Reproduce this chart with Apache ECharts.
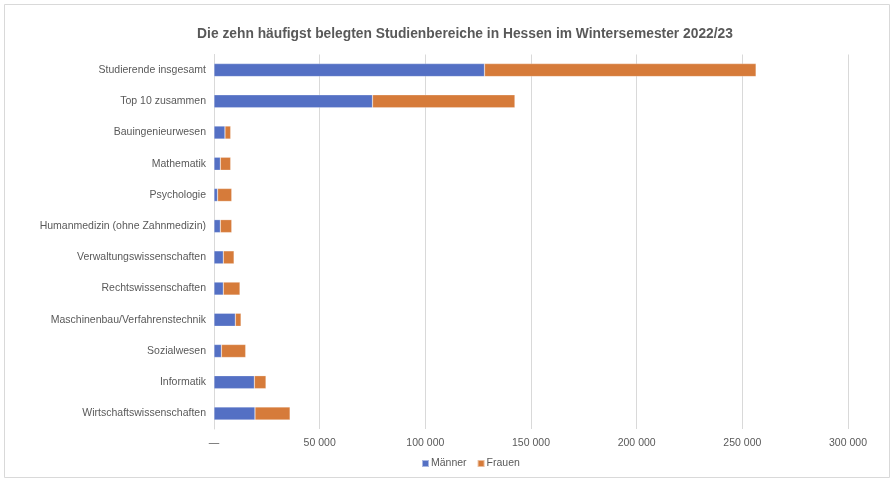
<!DOCTYPE html>
<html>
<head>
<meta charset="utf-8">
<script src="https://cdn.jsdelivr.net/npm/echarts@6/dist/echarts.min.js"></script>
<style>
html,body{margin:0;padding:0;background:#fff;}
#c{width:894px;height:481px;}
</style>
</head>
<body>
<div id="c"></div>
<script>
const categories = [
  "Studierende insgesamt",
  "Top 10 zusammen",
  "Bauingenieurwesen",
  "Mathematik",
  "Psychologie",
  "Humanmedizin (ohne Zahnmedizin)",
  "Verwaltungswissenschaften",
  "Rechtswissenschaften",
  "Maschinenbau/Verfahrenstechnik",
  "Sozialwesen",
  "Informatik",
  "Wirtschaftswissenschaften"
];
const maenner = [128000, 75000, 5200, 3000, 1700, 3000, 4400, 4400, 10100, 3500, 19100, 19400];
const frauen  = [128500, 67400, 2700, 4900, 6700, 5400, 5100, 7900, 2700, 11500, 5500, 16600];
const seriesNames = ["Männer", "Frauen"];
const titleText = "Die zehn häufigst belegten Studienbereiche in Hessen im Wintersemester 2022/23";

const fontFam = "'Liberation Sans', Arial, sans-serif";
const chart = echarts.init(document.getElementById('c'));
function fmt(v){
  if (v === 0) return '—';
  return String(v).replace(/\B(?=(\d{3})+(?!\d))/g, ' ');
}
chart.setOption({
  animation: false,
  color: ['#5470C4', '#D67B3A'],
  graphic: [{
    type: 'rect', shape: {x: 4.5, y: 4.5, width: 885, height: 473},
    style: {fill: 'none', stroke: '#d9d9d9', lineWidth: 1}, silent: true
  }],
  title: {
    text: titleText,
    left: 460, top: 22, textAlign: 'center',
    textStyle: {fontFamily: fontFam, fontSize: 13.8, fontWeight: 'bold', color: '#595959'}
  },
  legend: {
    data: seriesNames,
    bottom: 7,
    left: 416,
    itemWidth: 7, itemHeight: 7, itemGap: 10,
    icon: 'rect',
    textStyle: {fontFamily: fontFam, fontSize: 10.5, color: '#595959', padding: [0,0,0,-3]}
  },
  grid: {left: 214, right: 46, top: 54.5, bottom: 52, containLabel: false},
  xAxis: {
    type: 'value', min: 0, max: 300000, interval: 50000,
    axisLine: {show: false}, axisTick: {show: false},
    splitLine: {lineStyle: {color: '#d9d9d9', width: 1}},
    axisLabel: {fontFamily: fontFam, fontSize: 10.5, color: '#595959', margin: 9, formatter: fmt}
  },
  yAxis: {
    type: 'category', data: categories, inverse: true,
    axisLine: {show: true, lineStyle: {color: '#d9d9d9'}},
    axisTick: {show: false},
    axisLabel: {fontFamily: fontFam, fontSize: 10.5, color: '#595959', margin: 8}
  },
  series: [
    {name: seriesNames[0], type: 'bar', stack: 's', data: maenner, barWidth: 13,
     itemStyle: {borderColor: 'rgba(255,255,255,0.5)', borderWidth: 0.5}},
    {name: seriesNames[1], type: 'bar', stack: 's', data: frauen, barWidth: 13,
     itemStyle: {borderColor: 'rgba(255,255,255,0.5)', borderWidth: 0.5}}
  ]
});
</script>
</body>
</html>
